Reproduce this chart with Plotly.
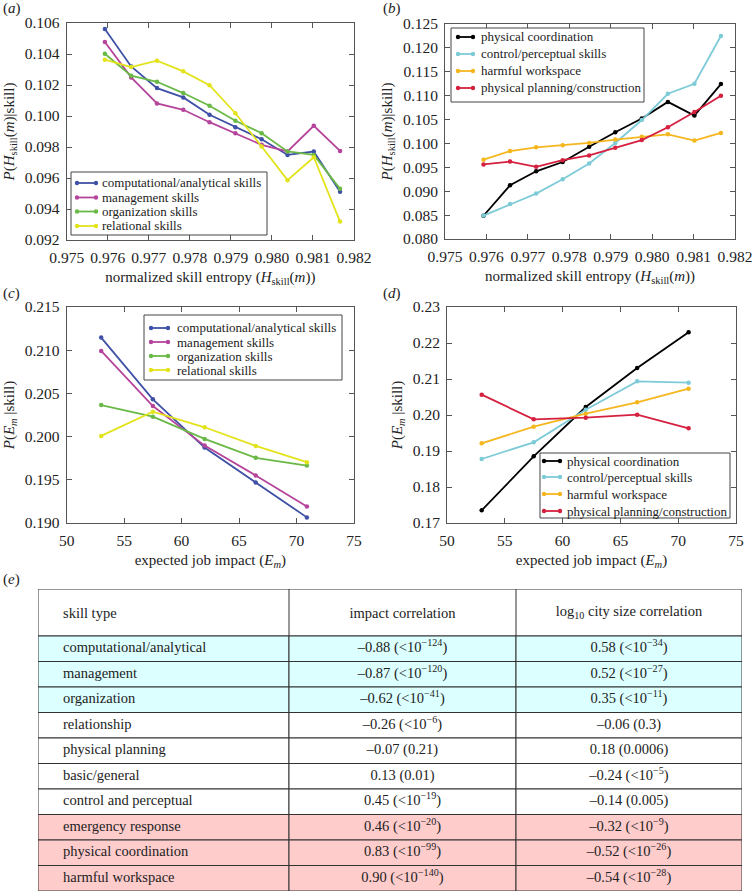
import plotly.graph_objects as go

W, H = 752, 892
FONT = "Liberation Serif, Times New Roman, DejaVu Serif, serif"
TXT = "#222222"
AX = "#555555"

# ---------------- data ----------------
entropy_x = [0.97593, 0.97657, 0.97720, 0.97784, 0.97848, 0.97911, 0.97975, 0.98038, 0.98102, 0.98166]

a_computational = [0.10561, 0.10320, 0.10180, 0.10120, 0.10008, 0.09928, 0.09850, 0.09749, 0.09771, 0.09512]
a_management = [0.10477, 0.10249, 0.10081, 0.10040, 0.09960, 0.09889, 0.09814, 0.09771, 0.09937, 0.09775]
a_organization = [0.10402, 0.10260, 0.10221, 0.10148, 0.10066, 0.09969, 0.09889, 0.09771, 0.09749, 0.09530]
a_relational = [0.10363, 0.10316, 0.10357, 0.10288, 0.10199, 0.10018, 0.09803, 0.09586, 0.09734, 0.09319]

b_physical_coord = [0.08486, 0.09125, 0.09417, 0.09611, 0.09931, 0.10236, 0.10521, 0.10870, 0.10583, 0.11243]
b_control = [0.0849, 0.0873, 0.0895, 0.0925, 0.0958, 0.1001, 0.1049, 0.1104, 0.1125, 0.1225]
b_harmful = [0.0966, 0.0984, 0.0992, 0.0996, 0.1001, 0.1008, 0.1014, 0.1019, 0.1006, 0.1022]
b_planning = [0.0956, 0.0962, 0.0951, 0.0965, 0.0975, 0.0991, 0.1007, 0.1034, 0.1066, 0.1100]

impact_x = [53.0, 57.5, 62.0, 66.45, 70.9]

c_computational = [0.21146, 0.20431, 0.19873, 0.19469, 0.19065]
c_management = [0.20992, 0.20354, 0.19896, 0.19550, 0.19192]
c_organization = [0.20365, 0.20231, 0.19973, 0.19754, 0.19665]
c_relational = [0.20008, 0.20288, 0.20108, 0.19892, 0.19704]

d_physical_coord = [0.17352, 0.18852, 0.20222, 0.21306, 0.22296]
d_control = [0.18778, 0.19241, 0.20148, 0.20935, 0.20898]
d_harmful = [0.19213, 0.19676, 0.20037, 0.20352, 0.20731]
d_planning = [0.20565, 0.19880, 0.19926, 0.20009, 0.19630]

names_left = ["computational/analytical skills", "management skills", "organization skills", "relational skills"]
names_right = ["physical coordination", "control/perceptual skills", "harmful workspace", "physical planning/construction"]
colors_left = ["#3f51a6", "#b5449b", "#6ab946", "#e3e31c"]
colors_right = ["#000000", "#7ecbd8", "#f6b61e", "#d5203f"]

table_header = ["skill type", "impact correlation", "log<sub>10</sub> city size correlation"]
skill_types = ["computational/analytical", "management", "organization", "relationship",
               "physical planning", "basic/general", "control and perceptual",
               "emergency response", "physical coordination", "harmful workspace"]
impact_corr = ["–0.88 (&lt;10<sup>−124</sup>)", "–0.87 (&lt;10<sup>−120</sup>)", "–0.62 (&lt;10<sup>−41</sup>)",
               "–0.26 (&lt;10<sup>−6</sup>)", "–0.07 (0.21)", "0.13 (0.01)", "0.45 (&lt;10<sup>−19</sup>)",
               "0.46 (&lt;10<sup>−20</sup>)", "0.83 (&lt;10<sup>−99</sup>)", "0.90 (&lt;10<sup>−140</sup>)"]
city_corr = ["0.58 (&lt;10<sup>−34</sup>)", "0.52 (&lt;10<sup>−27</sup>)", "0.35 (&lt;10<sup>−11</sup>)",
             "–0.06 (0.3)", "0.18 (0.0006)", "–0.24 (&lt;10<sup>−5</sup>)", "–0.14 (0.005)",
             "–0.32 (&lt;10<sup>−9</sup>)", "–0.52 (&lt;10<sup>−26</sup>)", "–0.54 (&lt;10<sup>−28</sup>)"]
row_group = ["neg", "neg", "neg", "none", "none", "none", "none", "pos", "pos", "pos"]
group_fill = {"neg": "#dcffff", "none": "#ffffff", "pos": "#ffcccc"}

# ---------------- helpers (page pixel -> paper) ----------------
def px(x):
    return x / W


def py(y):
    return 1 - y / H


fig = go.Figure()

panels = [
    ("x", "y", entropy_x, [a_computational, a_management, a_organization, a_relational], names_left, colors_left),
    ("x2", "y2", entropy_x, [b_physical_coord, b_control, b_harmful, b_planning], names_right, colors_right),
    ("x3", "y3", impact_x, [c_computational, c_management, c_organization, c_relational], names_left, colors_left),
    ("x4", "y4", impact_x, [d_physical_coord, d_control, d_harmful, d_planning], names_right, colors_right),
]
for xa, ya, xs, series, names, cols in panels:
    for ys, nm, col in zip(series, names, cols):
        fig.add_trace(go.Scatter(x=xs, y=ys, name=nm, mode="lines+markers", xaxis=xa, yaxis=ya,
                                 line=dict(color=col, width=1.8), marker=dict(color=col, size=4.5),
                                 showlegend=False, cliponaxis=False))

axis_common = dict(showline=True, linecolor=AX, linewidth=1, mirror="ticks", ticks="inside",
                   ticklen=5, tickcolor=AX, showgrid=False, zeroline=False, automargin=False,
                   ticklabeloverflow="allow",
                   tickfont=dict(family=FONT, size=15.5, color=TXT), ticklabelstandoff=3)
title_font = dict(family=FONT, size=15, color=TXT)

x_entropy_title = "normalized skill entropy (<i>H</i><sub>skill</sub>(<i>m</i>))"
y_entropy_title = "<i>P</i>(<i>H</i><sub>skill</sub>(<i>m</i>)|skill)"
x_impact_title = "expected job impact (<i>E<sub>m</sub></i>)"
y_impact_title = "<i>P</i>(<i>E<sub>m</sub></i> |skill)"

fig.update_layout(
    template="none",
    width=W, height=H, margin=dict(l=0, r=0, t=0, b=0, autoexpand=False),
    paper_bgcolor="white", plot_bgcolor="white", showlegend=False,
    font=dict(family=FONT, color=TXT),
    xaxis=dict(domain=[px(66.7), px(354)], anchor="y", range=[0.975, 0.982], dtick=0.001, tickformat=".3f",
               title=dict(text=x_entropy_title, font=title_font, standoff=6), **axis_common),
    yaxis=dict(domain=[py(240), py(23)], anchor="x", range=[0.092, 0.106], dtick=0.002, tickformat=".3f",
               title=dict(text=y_entropy_title, font=title_font, standoff=6), **axis_common),
    xaxis2=dict(domain=[px(445), px(735)], anchor="y2", range=[0.975, 0.982], dtick=0.001, tickformat=".3f",
                title=dict(text=x_entropy_title, font=title_font, standoff=6), **axis_common),
    yaxis2=dict(domain=[py(239), py(24)], anchor="x2", range=[0.080, 0.125], dtick=0.005, tickformat=".3f",
                title=dict(text=y_entropy_title, font=title_font, standoff=6), **axis_common),
    xaxis3=dict(domain=[px(66.7), px(354)], anchor="y3", range=[50, 75], dtick=5,
                title=dict(text=x_impact_title, font=title_font, standoff=6), **axis_common),
    yaxis3=dict(domain=[py(523), py(307)], anchor="x3", range=[0.190, 0.215], dtick=0.005, tickformat=".3f",
                title=dict(text=y_impact_title, font=title_font, standoff=6), **axis_common),
    xaxis4=dict(domain=[px(447), px(736)], anchor="y4", range=[50, 75], dtick=5,
                title=dict(text=x_impact_title, font=title_font, standoff=6), **axis_common),
    yaxis4=dict(domain=[py(523), py(307)], anchor="x4", range=[0.17, 0.23], dtick=0.01, tickformat=".2f",
                title=dict(text=y_impact_title, font=title_font, standoff=6), **axis_common),
    xaxis5=dict(domain=[px(38), px(742)], anchor="y5", range=[0, 704], visible=False, fixedrange=True,
                automargin=False),
    yaxis5=dict(domain=[py(891), py(589)], anchor="x5", range=[302, 0], visible=False, fixedrange=True,
                automargin=False),
)

shapes = []
annotations = []

# ---------------- legends (drawn boxes) ----------------
def draw_legend(names, cols, box, ys, sx0, sx1, tx):
    x0, y0, x1, y1 = box
    shapes.append(dict(type="rect", xref="paper", yref="paper", x0=px(x0), x1=px(x1), y0=py(y0), y1=py(y1),
                       line=dict(color="#444444", width=1), fillcolor="white", layer="above"))
    for nm, col, y in zip(names, cols, ys):
        shapes.append(dict(type="line", xref="paper", yref="paper", x0=px(sx0), x1=px(sx1), y0=py(y), y1=py(y),
                           line=dict(color=col, width=1.8), layer="above"))
        for cx in (sx0, sx1):
            shapes.append(dict(type="circle", xref="paper", yref="paper", x0=px(cx - 2.2), x1=px(cx + 2.2),
                               y0=py(y + 2.2), y1=py(y - 2.2), fillcolor=col, line=dict(color=col, width=0),
                               layer="above"))
        annotations.append(dict(x=px(tx), y=py(y), xref="paper", yref="paper", text=nm, showarrow=False,
                                xanchor="left", yanchor="middle", font=dict(family=FONT, size=13, color=TXT)))


draw_legend(names_left, colors_left, (71, 172, 267, 235), [183, 197.5, 211.5, 226], 77, 96, 100)
draw_legend(names_right, colors_right, (451, 28, 644, 102), [37, 54, 71, 88], 458, 473, 479)
draw_legend(names_left, colors_left, (144, 315, 342, 380), [328, 342, 356, 370], 151, 168, 175)
draw_legend(names_right, colors_right, (540, 453, 730, 518), [461, 477, 494, 511], 544, 560, 565)

# ---------------- panel labels ----------------
for lab, x, y in [("a", 1, 9), ("b", 381, 9), ("c", 1, 294), ("d", 381, 294), ("e", 1, 579)]:
    annotations.append(dict(x=px(x), y=py(y), xref="paper", yref="paper", text="(<i>%s</i>)" % lab,
                            showarrow=False, xanchor="left", yanchor="middle",
                            font=dict(family=FONT, size=15, color=TXT)))

# ---------------- table (on hidden axes x5/y5) ----------------
col_edges = [0, 251, 478, 704]
header_h = 47
row_h = 25.5
row_tops = [header_h + row_h * i for i in range(len(skill_types))]

shapes.append(dict(type="rect", xref="x5", yref="y5", x0=col_edges[0], x1=col_edges[-1], y0=0, y1=header_h,
                   fillcolor="white", line=dict(color="#333333", width=1), layer="below"))
for top, grp in zip(row_tops, row_group):
    for c0, c1 in zip(col_edges[:-1], col_edges[1:]):
        shapes.append(dict(type="rect", xref="x5", yref="y5", x0=c0, x1=c1, y0=top, y1=top + row_h,
                           fillcolor=group_fill[grp], line=dict(color="#333333", width=1), layer="below"))
for c in col_edges[1:-1]:
    shapes.append(dict(type="line", xref="x5", yref="y5", x0=c, x1=c, y0=0, y1=header_h,
                       line=dict(color="#333333", width=1), layer="below"))

tfont = dict(family=FONT, size=14.5, color=TXT)
row_centers = [t + row_h / 2 for t in row_tops]
text_x = [25, (col_edges[1] + col_edges[2]) / 2, (col_edges[2] + col_edges[3]) / 2]
fig.add_trace(go.Scatter(x=[text_x[0]], y=[header_h / 2 + 2], text=[table_header[0]], mode="text",
                         textposition="middle right", xaxis="x5", yaxis="y5", textfont=tfont,
                         showlegend=False, cliponaxis=False, hoverinfo="skip"))
fig.add_trace(go.Scatter(x=text_x[1:], y=[header_h / 2 + 2, header_h / 2], text=table_header[1:], mode="text",
                         textposition="middle center", xaxis="x5", yaxis="y5", textfont=tfont,
                         showlegend=False, cliponaxis=False, hoverinfo="skip"))
fig.add_trace(go.Scatter(x=[text_x[0]] * len(skill_types), y=row_centers, text=skill_types, mode="text",
                         textposition="middle right", xaxis="x5", yaxis="y5", textfont=tfont,
                         showlegend=False, cliponaxis=False, hoverinfo="skip"))
fig.add_trace(go.Scatter(x=[text_x[1]] * len(impact_corr), y=row_centers, text=impact_corr, mode="text",
                         textposition="middle center", xaxis="x5", yaxis="y5", textfont=tfont,
                         showlegend=False, cliponaxis=False, hoverinfo="skip"))
fig.add_trace(go.Scatter(x=[text_x[2]] * len(city_corr), y=row_centers, text=city_corr, mode="text",
                         textposition="middle center", xaxis="x5", yaxis="y5", textfont=tfont,
                         showlegend=False, cliponaxis=False, hoverinfo="skip"))

fig.update_layout(shapes=shapes, annotations=annotations)
# remove the browser's default 8px body margin so the 752x892 figure fills the window exactly
fig.write_html("out.html", config={"displayModeBar": False},
               post_script="document.body.style.margin='0';document.body.style.overflow='hidden';")
